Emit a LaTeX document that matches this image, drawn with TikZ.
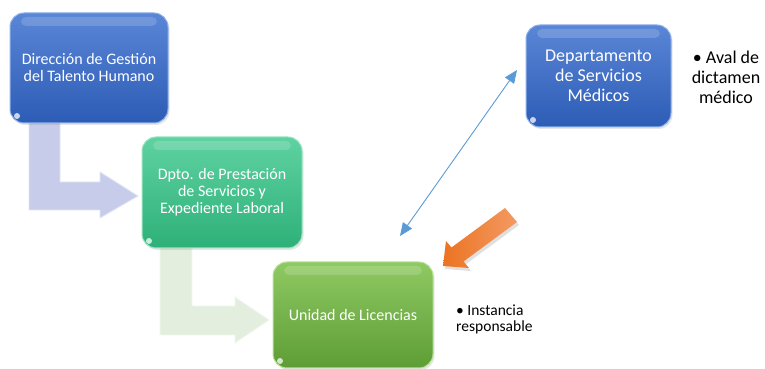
\documentclass[tikz,border=0pt]{standalone}
\usepackage{fontspec}
\setmainfont{Carlito}
\usetikzlibrary{arrows.meta,shadows}
\definecolor{bluetop}{HTML}{5A86D6}
\definecolor{bluebot}{HTML}{2D5CB6}
\definecolor{bluerim}{HTML}{8FB0EA}
\definecolor{tealtop}{HTML}{5FD2A2}
\definecolor{tealbot}{HTML}{2EB079}
\definecolor{tealrim}{HTML}{9BE5C3}
\definecolor{greentop}{HTML}{8FC963}
\definecolor{greenbot}{HTML}{5E9D35}
\definecolor{greenrim}{HTML}{B9E29A}
\definecolor{lineblue}{HTML}{5B9BD5}
\definecolor{orangedark}{HTML}{EC7322}
\definecolor{orangelight}{HTML}{F39A62}
\definecolor{lavender}{HTML}{C7CCEA}
\definecolor{lavlight}{HTML}{E2E5F5}
\definecolor{palegreen}{HTML}{E3EEDF}
\definecolor{palegreenlight}{HTML}{F1F7EF}
\tikzset{
  glossy/.style={rounded corners=14pt, line width=1pt, text=white,
    align=center, inner sep=0pt,
    font=\fontsize{16}{17}\selectfont,
    drop shadow={opacity=0.2, shadow xshift=1.5pt, shadow yshift=-2pt},
    path picture={
      \fill[white, opacity=0.16, rounded corners=5pt]
        ([xshift=11pt,yshift=-4pt]path picture bounding box.north west)
        rectangle ([xshift=-11pt,yshift=-13pt]path picture bounding box.north east);
      \fill[white, opacity=0.75]
        ([xshift=7pt,yshift=7pt]path picture bounding box.south west) circle (3pt);
    }},
  bluebox/.style={glossy, top color=bluetop, bottom color=bluebot, draw=bluerim},
  tealbox/.style={glossy, top color=tealtop, bottom color=tealbot, draw=tealrim},
  greenbox/.style={glossy, top color=greentop, bottom color=greenbot, draw=greenrim},
  bentarrow/.style={line width=0.8pt, line join=miter},
  note/.style={text=black, inner sep=0pt}
}
\begin{document}
\begin{tikzpicture}[x=1pt,y=1pt]
\useasboundingbox (0,0) rectangle (765,369);

% bent arrows (behind the boxes)
\path[bentarrow, fill=lavender, draw=lavlight]
  (29,250) -- (60,250) -- (60,187) -- (100,187) -- (100,197) -- (138,173)
  -- (100,151) -- (100,159) -- (29,159) -- cycle;
\path[bentarrow, fill=palegreen, draw=palegreenlight]
  (160,125) -- (192,125) -- (192,63) -- (235,63) -- (235,72) -- (269,49)
  -- (235,26) -- (235,34) -- (160,34) -- cycle;

% boxes
\node[bluebox, minimum width=158pt, minimum height=110pt] (dir) at (89,301)
  {Dirección de Gestión\\del Talento Humano};
\node[tealbox, minimum width=160pt, minimum height=111pt] (dpto) at (222,176.5)
  {Dpto. de Prestación\\de Servicios y\\Expediente Laboral};
\node[greenbox, minimum width=160pt, minimum height=106pt] (uni) at (353,54)
  {Unidad de Licencias};
\node[bluebox, minimum width=145pt, minimum height=102pt,
  font=\fontsize{18}{20}\selectfont] (med) at (598.5,293)
  {Departamento\\de Servicios\\Médicos};

% notes
\node[note, align=center, font=\fontsize{18}{20}\selectfont] (aval) at (726,292)
  {• Aval de\\dictamen\\médico};
\node[note, align=left, anchor=west, font=\fontsize{15.5}{16}\selectfont] (inst) at (456,50)
  {• Instancia\\responsable};

% blue double arrow
\coordinate (b1) at (400,133);
\coordinate (b2) at (517,299);
\draw[lineblue, line width=0.9pt,
  {Triangle[length=13pt,width=11pt]}-{Triangle[length=13pt,width=11pt]}] (b1) -- (b2);

% orange block arrow
\fill[black, opacity=0.12]
  (507,158) -- (453.5,118.5) -- (448,125) -- (445,100) -- (471,98)
  -- (465.5,104.5) -- (519,144) -- cycle;
\shade[left color=orangedark, right color=orangelight]
  (505,161) -- (451.5,121.5) -- (446,128) -- (443,103) -- (469,101)
  -- (463.5,107.5) -- (517,147) -- cycle;
\end{tikzpicture}
\end{document}
